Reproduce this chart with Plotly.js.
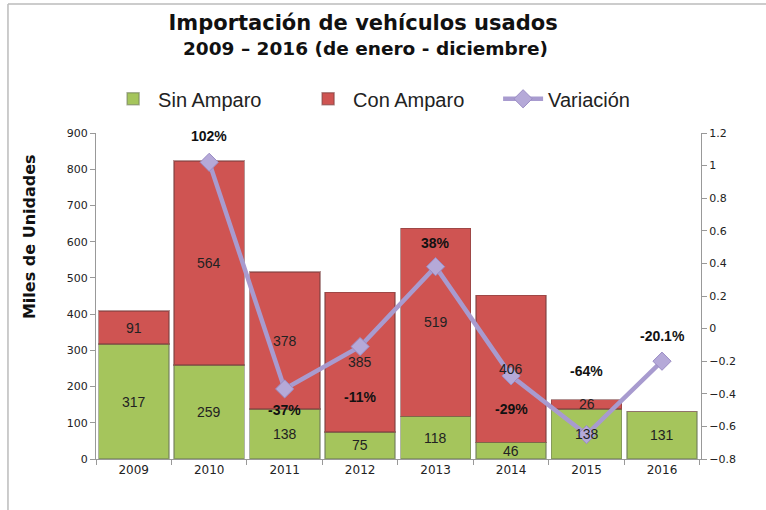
<!DOCTYPE html>
<html>
<head>
<meta charset="utf-8">
<script src="https://cdn.plot.ly/plotly-3.0.1.min.js"></script>
<style>html,body{margin:0;padding:0;background:#fff;}#chart{width:766px;height:510px;}</style>
</head>
<body>
<div id="chart"></div>
<script>
const years = ['2009','2010','2011','2012','2013','2014','2015','2016'];
const sinAmparo = [317, 259, 138, 75, 118, 46, 138, 131];
const conAmparo = [91, 564, 378, 385, 519, 406, 26, 0];
const variacionYears = ['2010','2011','2012','2013','2014','2015','2016'];
const variacion = [1.02, -0.37, -0.11, 0.38, -0.29, -0.65, -0.20];
const variacionLabels = ['102%', '-37%', '-11%', '38%', '-29%', '-64%', '-20.1%'];
const labelShift = [26, -21, -50, 24, -33, 64, 25];

const green = '#a5c55c';
const red = '#cf5452';
const lav = '#a89bcf';

const traces = [
  {
    type: 'bar', name: 'Sin Amparo', x: years, y: sinAmparo,
    marker: {color: green, line: {color: 'rgba(110,120,90,0.55)', width: 1.5}},
    hoverinfo: 'none'
  },
  {
    type: 'bar', name: 'Con Amparo', x: years, y: conAmparo,
    marker: {color: red, line: {color: 'rgba(120,60,60,0.55)', width: 1.5}},
    hoverinfo: 'none'
  },
  {
    type: 'scatter', mode: 'lines+markers', name: 'Variación',
    x: variacionYears, y: variacion, yaxis: 'y2',
    line: {color: lav, width: 4.5},
    marker: {symbol: 'diamond', size: 14, color: '#b5a9d8', line: {color: '#9a8cc4', width: 1}},
    hoverinfo: 'none'
  }
];

// category axes: annotation x is the category's serial index
const catIndex = (yr) => years.indexOf(yr);
const annotations = [];
years.forEach((yr, i) => {
  if (sinAmparo[i] > 0) {
    annotations.push({x: catIndex(yr), y: sinAmparo[i] / 2, xref: 'x', yref: 'y', text: String(sinAmparo[i]),
      showarrow: false, font: {family: 'Liberation Sans, Arial', size: 14, color: '#222'}});
  }
  if (conAmparo[i] > 0) {
    annotations.push({x: catIndex(yr), y: sinAmparo[i] + conAmparo[i] / 2, xref: 'x', yref: 'y', text: String(conAmparo[i]),
      showarrow: false, font: {family: 'Liberation Sans, Arial', size: 14, color: '#222'}});
  }
});
variacionYears.forEach((yr, i) => {
  annotations.push({x: catIndex(yr), y: variacion[i], xref: 'x', yref: 'y2', yshift: labelShift[i],
    text: '<b>' + variacionLabels[i] + '</b>', showarrow: false,
    font: {family: 'Liberation Sans, Arial', size: 14, color: '#111'}});
});
annotations.push({xref: 'paper', yref: 'paper', x: 0.446, y: 1.26, xanchor: 'center', yanchor: 'middle',
  text: '<b>2009 – 2016 (de enero - diciembre)</b>', showarrow: false,
  font: {family: 'DejaVu Sans', size: 18.5, color: '#111'}});
annotations.push({xref: 'paper', yref: 'paper', x: -0.109, y: 0.681, xanchor: 'center', yanchor: 'middle',
  textangle: -90, text: '<b>Miles de Unidades</b>', showarrow: false,
  font: {family: 'DejaVu Sans', size: 16, color: '#111'}});

const layout = {
  width: 766, height: 510,
  margin: {l: 96, r: 65, t: 133, b: 51},
  paper_bgcolor: '#ffffff', plot_bgcolor: '#ffffff',
  barmode: 'stack', bargap: 0.07,
  showlegend: true,
  title: {
    text: '<b>Importación de vehículos usados</b>',
    x: 0.474, xanchor: 'center', y: 0.955, yanchor: 'middle', yref: 'container', xref: 'container',
    font: {family: 'DejaVu Sans', size: 21, color: '#111'}
  },
  legend: {
    orientation: 'h', x: 0.02, xanchor: 'left', y: 1.105, yanchor: 'middle',
    font: {family: 'Liberation Sans, Arial', size: 20, color: '#222'},
    entrywidth: 140, entrywidthmode: 'pixels', itemwidth: 40,
    traceorder: 'normal'
  },
  xaxis: {
    type: 'category', categoryorder: 'array', categoryarray: years,
    showgrid: false, zeroline: false,
    showline: true, linecolor: '#999', linewidth: 1,
    ticks: 'outside', tickson: 'boundaries', ticklen: 5, tickcolor: '#999',
    tickfont: {family: 'DejaVu Sans', size: 12, color: '#222'}
  },
  yaxis: {
    range: [0, 900], dtick: 100, showgrid: false, zeroline: false,
    showline: true, linecolor: '#999', linewidth: 1,
    ticks: 'outside', ticklen: 5, tickcolor: '#999',
    tickfont: {family: 'DejaVu Sans', size: 11, color: '#222'}
  },
  yaxis2: {
    overlaying: 'y', side: 'right', range: [-0.8, 1.2], dtick: 0.2,
    showgrid: false, zeroline: false,
    showline: true, linecolor: '#999', linewidth: 1,
    ticks: 'outside', ticklen: 5, tickcolor: '#999',
    tickfont: {family: 'DejaVu Sans', size: 11, color: '#222'}
  },
  annotations: annotations,
  shapes: [
    {type: 'line', xref: 'paper', yref: 'paper', x0: -0.1455, x1: 1.11, y0: 1.3957, y1: 1.3957,
      line: {color: '#bbbbbb', width: 1.5}},
    {type: 'line', xref: 'paper', yref: 'paper', x0: -0.1455, x1: -0.1455, y0: 1.3957, y1: -0.16,
      line: {color: '#bbbbbb', width: 1.5}}
  ]
};

Plotly.newPlot('chart', traces, layout, {displayModeBar: false, staticPlot: true});
</script>
</body>
</html>
